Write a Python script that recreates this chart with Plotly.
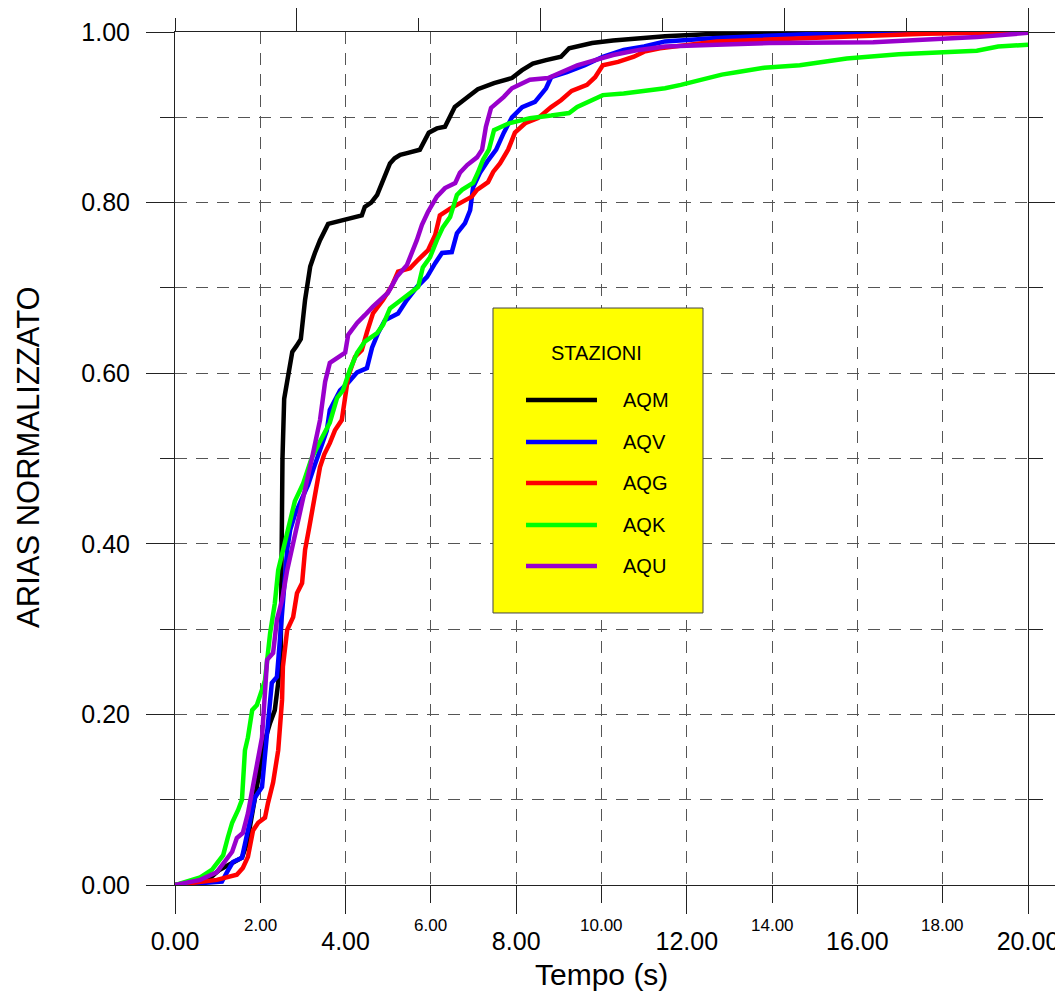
import plotly.graph_objects as go

# ---------------- data ----------------
stations = ["AQM", "AQV", "AQG", "AQK", "AQU"]
colors = ["#000000", "#0000FF", "#FF0000", "#00FF00", "#9900CC"]

AQM_t = [0, 0.82, 1.05, 1.45, 1.57, 1.69, 1.8, 1.92, 2.11, 2.23, 2.34, 2.42, 2.48, 2.5, 2.52, 2.56,
         2.65, 2.75, 2.85, 2.95, 3.05, 3.17, 3.28, 3.4, 3.59, 3.8, 4.03, 4.17, 4.38, 4.45, 4.6, 4.74,
         4.92, 5.04, 5.15, 5.28, 5.44, 5.74, 5.95, 6.14, 6.33, 6.45, 6.56, 6.87, 7.1, 7.48, 7.9, 8.13,
         8.39, 8.7, 9.05, 9.24, 9.78, 10.27, 11.49, 12.7, 15.1, 20]
AQM_v = [0, 0.008, 0.018, 0.029, 0.032, 0.049, 0.08, 0.12, 0.17, 0.19, 0.205, 0.237, 0.275, 0.39, 0.50, 0.57,
         0.60, 0.625, 0.632, 0.64, 0.686, 0.725, 0.741, 0.756, 0.775, 0.778, 0.78, 0.782, 0.785, 0.795, 0.8, 0.809,
         0.83, 0.846, 0.852, 0.856, 0.858, 0.862, 0.882, 0.887, 0.889, 0.9, 0.912, 0.924, 0.933, 0.94, 0.946, 0.955,
         0.963, 0.967, 0.971, 0.981, 0.987, 0.99, 0.995, 0.998, 0.999, 1.0]

AQV_t = [0, 1.1, 1.22, 1.36, 1.57, 1.71, 1.88, 2.04, 2.11, 2.18, 2.27, 2.39, 2.51, 2.58, 2.63, 2.7, 2.81,
         2.95, 3.12, 3.24, 3.4, 3.56, 3.63, 3.87, 4.06, 4.27, 4.5, 4.62, 4.76, 4.92, 5.23, 5.44, 5.67, 5.91,
         6.1, 6.26, 6.49, 6.61, 6.8, 6.92, 6.99, 7.15, 7.32, 7.53, 7.71, 7.9, 8.14, 8.44, 8.7, 8.82, 9.19,
         9.61, 10.03, 10.52, 11.0, 11.49, 12.7, 15.1, 20]
AQV_v = [0, 0.004, 0.015, 0.027, 0.032, 0.064, 0.103, 0.115, 0.155, 0.197, 0.237, 0.244, 0.314, 0.354, 0.393, 0.416, 0.434,
         0.45, 0.469, 0.487, 0.51, 0.533, 0.557, 0.58, 0.589, 0.601, 0.606, 0.63, 0.647, 0.662, 0.67, 0.686, 0.701, 0.713,
         0.729, 0.741, 0.742, 0.764, 0.776, 0.791, 0.818, 0.835, 0.848, 0.862, 0.882, 0.9, 0.912, 0.918, 0.934, 0.947, 0.953,
         0.961, 0.971, 0.979, 0.983, 0.989, 0.993, 0.998, 1.0]

AQG_t = [0, 0.98, 1.45, 1.59, 1.71, 1.83, 1.95, 2.11, 2.18, 2.3, 2.42, 2.51, 2.53, 2.63, 2.77, 2.86, 2.98,
         3.05, 3.15, 3.25, 3.4, 3.5, 3.63, 3.75, 3.91, 3.99, 4.06, 4.22, 4.38, 4.5, 4.64, 4.88, 5.09, 5.23,
         5.51, 5.7, 5.93, 6.1, 6.21, 6.45, 6.68, 6.96, 7.08, 7.34, 7.46, 7.62, 7.81, 7.97, 8.21, 8.51, 8.82,
         9.05, 9.3, 9.66, 9.85, 10.03, 10.39, 10.76, 11.0, 11.37, 12.7, 15.1, 17.6, 20]
AQG_v = [0, 0.006, 0.012, 0.02, 0.033, 0.064, 0.073, 0.079, 0.096, 0.12, 0.158, 0.217, 0.256, 0.299, 0.314, 0.342, 0.354,
         0.393, 0.42, 0.45, 0.49, 0.505, 0.518, 0.533, 0.545, 0.572, 0.596, 0.619, 0.627, 0.648, 0.67, 0.686, 0.703, 0.719,
         0.723, 0.733, 0.744, 0.762, 0.785, 0.793, 0.8, 0.807, 0.815, 0.824, 0.836, 0.846, 0.862, 0.882, 0.893, 0.899, 0.912,
         0.92, 0.931, 0.938, 0.947, 0.961, 0.965, 0.971, 0.977, 0.981, 0.989, 0.994, 0.998, 1.0]

AQK_t = [0, 0.59, 0.87, 0.98, 1.13, 1.24, 1.34, 1.48, 1.57, 1.64, 1.71, 1.81, 1.92, 2.04, 2.11, 2.23, 2.34,
         2.42, 2.53, 2.65, 2.81, 3.0, 3.2, 3.4, 3.63, 3.8, 3.94, 4.1, 4.27, 4.45, 4.74, 4.88, 5.04, 5.2, 5.46,
         5.7, 5.81, 5.98, 6.14, 6.28, 6.45, 6.61, 6.73, 6.99, 7.1, 7.22, 7.36, 7.48, 7.83, 8.32, 8.82, 9.24,
         9.43, 9.78, 10.03, 10.52, 11.49, 11.86, 12.33, 12.82, 13.2, 13.81, 14.65, 15.1, 15.75, 16.97, 18.05,
         18.8, 19.3, 20]
AQK_v = [0, 0.009, 0.018, 0.026, 0.035, 0.056, 0.073, 0.088, 0.1, 0.158, 0.173, 0.205, 0.211, 0.229, 0.24, 0.295, 0.33,
         0.369, 0.393, 0.42, 0.45, 0.47, 0.5, 0.52, 0.542, 0.571, 0.58, 0.604, 0.624, 0.637, 0.647, 0.657, 0.676, 0.682, 0.692,
         0.701, 0.724, 0.736, 0.756, 0.771, 0.783, 0.809, 0.815, 0.823, 0.835, 0.85, 0.862, 0.885, 0.893, 0.899, 0.902, 0.905,
         0.912, 0.92, 0.926, 0.928, 0.934, 0.938, 0.944, 0.95, 0.953, 0.958, 0.961, 0.964, 0.969, 0.974, 0.976,
         0.978, 0.983, 0.985]

AQU_t = [0, 0.59, 0.98, 1.1, 1.34, 1.45, 1.59, 1.71, 1.83, 1.95, 2.04, 2.16, 2.3, 2.39, 2.51, 2.63, 2.74,
         2.98, 3.21, 3.4, 3.52, 3.63, 3.8, 3.99, 4.06, 4.27, 4.45, 4.64, 4.99, 5.2, 5.44, 5.56, 5.67, 5.79,
         5.93, 6.14, 6.33, 6.57, 6.68, 6.85, 7.08, 7.2, 7.29, 7.41, 7.71, 7.9, 8.32, 8.75, 9.05, 9.43, 9.85,
         10.27, 10.88, 11.49, 12.7, 13.93, 16.37, 17.6, 18.8, 20]
AQU_v = [0, 0.006, 0.015, 0.023, 0.039, 0.055, 0.061, 0.084, 0.119, 0.15, 0.173, 0.264, 0.272, 0.311, 0.334, 0.369, 0.393,
         0.45, 0.5, 0.545, 0.59, 0.612, 0.618, 0.624, 0.645, 0.659, 0.668, 0.678, 0.694, 0.713, 0.727, 0.741, 0.756, 0.774,
         0.789, 0.807, 0.817, 0.823, 0.835, 0.844, 0.853, 0.862, 0.889, 0.911, 0.924, 0.934, 0.944, 0.946, 0.953, 0.961, 0.967,
         0.973, 0.979, 0.983, 0.985, 0.987, 0.988, 0.991, 0.994, 0.999]

series_t = [AQM_t, AQV_t, AQG_t, AQK_t, AQU_t]
series_v = [AQM_v, AQV_v, AQG_v, AQK_v, AQU_v]

x_major_ticks = [0, 4, 8, 12, 16, 20]
x_minor_ticks = [2, 6, 10, 14, 18]
y_major_ticks = [0, 0.2, 0.4, 0.6, 0.8, 1.0]
y_minor_ticks = [0.1, 0.3, 0.5, 0.7, 0.9]
top_major_ticks = [1, 3, 5, 7]
top_minor_ticks = [0, 2, 4, 6]

x_title = "Tempo (s)"
y_title = "ARIAS NORMALIZZATO"
legend_title = "STAZIONI"

# ---------------- figure ----------------
FONT = "Arial, 'Liberation Sans', sans-serif"
GRID = "#555555"
DASH = "12px,9px"
AX = "#222222"

fig = go.Figure()
for name, col, t, v in zip(stations, colors, series_t, series_v):
    fig.add_trace(go.Scatter(x=t, y=v, mode="lines", name=name,
                             line=dict(color=col, width=4.5), showlegend=False))
# empty trace so that the frame axes (top / right) are drawn
fig.add_trace(go.Scatter(x=[], y=[], xaxis="x2", yaxis="y2", showlegend=False, hoverinfo="skip"))

fig.update_layout(
    width=1055, height=986,
    margin=dict(l=167, r=35, t=24, b=109, autoexpand=False),
    plot_bgcolor="white", paper_bgcolor="white",
    font=dict(family=FONT, color="black"),
    showlegend=False,
    xaxis=dict(range=[0, 20], tickmode="array", tickvals=x_major_ticks,
               ticktext=[f"{v:.2f}" for v in x_major_ticks], automargin=False,
               ticks="outside", ticklen=28, tickcolor=AX, tickwidth=1,
               tickfont=dict(size=25, family=FONT),
               showline=True, linecolor=AX, linewidth=1, zeroline=False,
               showgrid=True, gridcolor=GRID, griddash=DASH, gridwidth=1,
               minor=dict(tickmode="array", tickvals=x_minor_ticks, ticks="outside", ticklen=17,
                          tickcolor=AX, showgrid=True, gridcolor=GRID, griddash=DASH, gridwidth=1),
               ticklabelstandoff=6),
    yaxis=dict(range=[0, 1], tickmode="array", tickvals=y_major_ticks,
               ticktext=[f"{v:.2f}" for v in y_major_ticks], automargin=False,
               ticks="outside", ticklen=28, tickcolor=AX, tickwidth=1,
               tickfont=dict(size=25, family=FONT),
               showline=True, linecolor=AX, linewidth=1, zeroline=False,
               showgrid=True, gridcolor=GRID, griddash=DASH, gridwidth=1,
               minor=dict(tickmode="array", tickvals=y_minor_ticks, ticks="outside", ticklen=14,
                          tickcolor=AX, showgrid=True, gridcolor=GRID, griddash=DASH, gridwidth=1),
               ticklabelstandoff=11),
    xaxis2=dict(range=[0, 7], overlaying="x", side="top", anchor="y2", automargin=False,
                tickmode="array", tickvals=top_major_ticks, ticks="outside", ticklen=27,
                tickcolor=AX, showticklabels=False, showline=True, linecolor=AX, linewidth=1,
                showgrid=False, zeroline=False,
                minor=dict(tickmode="array", tickvals=top_minor_ticks, ticks="outside", ticklen=13,
                           tickcolor=AX, showgrid=False)),
    yaxis2=dict(range=[0, 1], overlaying="y", side="right", anchor="x2", automargin=False,
                tickmode="array", tickvals=y_major_ticks, ticks="outside", ticklen=28,
                tickcolor=AX, showticklabels=False, showline=True, linecolor=AX, linewidth=1,
                showgrid=False, zeroline=False,
                minor=dict(tickmode="array", tickvals=y_minor_ticks, ticks="outside", ticklen=14,
                           tickcolor=AX, showgrid=False)),
)

annotations = []
# small intermediate x labels
for v in x_minor_ticks:
    annotations.append(dict(x=v, y=0, xref="x", yref="paper", yshift=-40,
                            text=f"{v:.2f}", showarrow=False, yanchor="middle",
                            font=dict(size=17, family=FONT, color="black")))
# axis titles
annotations.append(dict(x=0.5, y=-0.1055, xref="paper", yref="paper", text=x_title,
                        showarrow=False, yanchor="middle",
                        font=dict(size=30, family=FONT, color="black")))
annotations.append(dict(x=-0.1712, y=0.5018, xref="paper", yref="paper", text=y_title,
                        showarrow=False, textangle=-90, xanchor="center", yanchor="middle",
                        font=dict(size=31, family=FONT, color="black")))

# custom legend box
shapes = [dict(type="rect", xref="paper", yref="paper", x0=0.3728, x1=0.6190, y0=0.3189, y1=0.6764,
               fillcolor="#FFFF00", line=dict(color="#444444", width=1), layer="above")]
annotations.append(dict(x=0.4947, y=0.6237, xref="paper", yref="paper", text=legend_title,
                        showarrow=False, xanchor="center", yanchor="middle",
                        font=dict(size=20, family=FONT, color="black")))
entry_y = [0.5686, 0.5193, 0.4713, 0.4220, 0.3740]
for name, col, yy in zip(stations, colors, entry_y):
    shapes.append(dict(type="line", xref="paper", yref="paper", x0=0.4115, x1=0.4947, y0=yy, y1=yy,
                       line=dict(color=col, width=4.5), layer="above"))
    annotations.append(dict(x=0.5229, y=yy, xref="paper", yref="paper", text=name,
                            showarrow=False, xanchor="left", yanchor="middle",
                            font=dict(size=20, family=FONT, color="black")))

fig.update_layout(shapes=shapes, annotations=annotations)
fig.write_html("out.html")
